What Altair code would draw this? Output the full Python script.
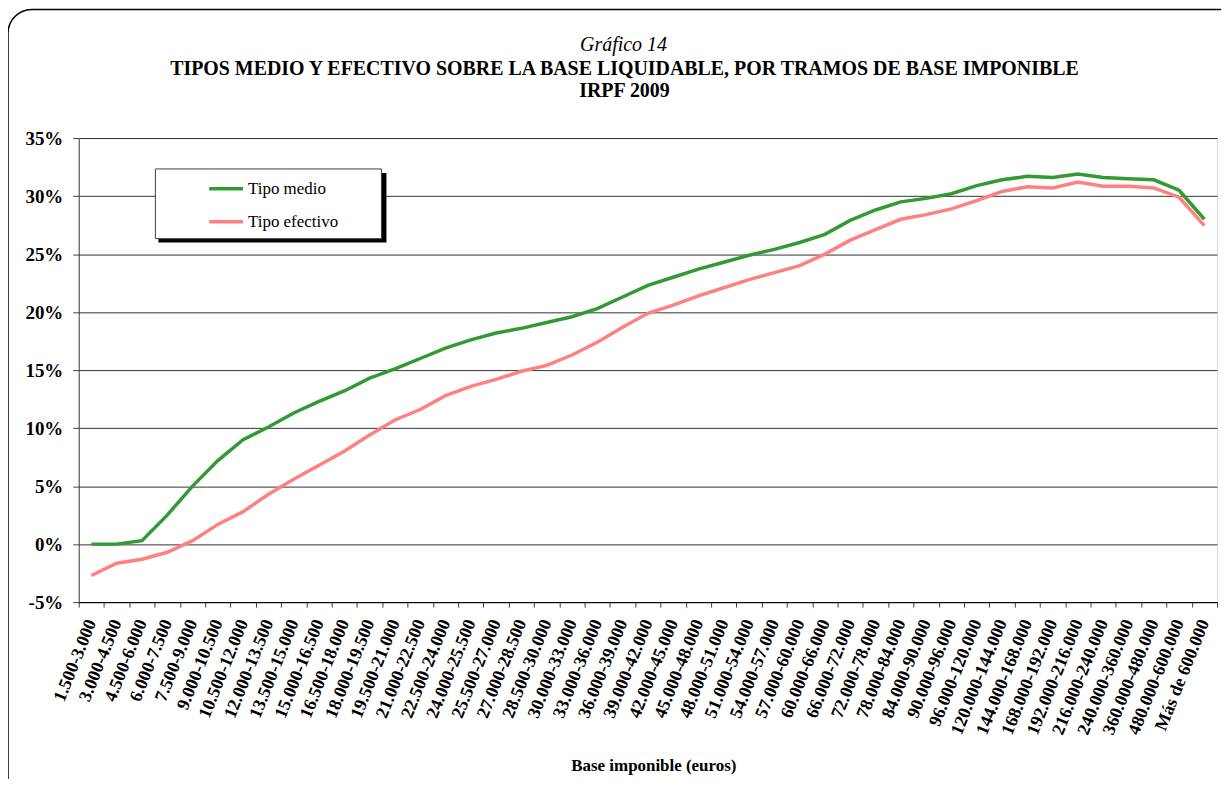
import altair as alt
import pandas as pd

tramos = [
    "1.500-3.000", "3.000-4.500", "4.500-6.000", "6.000-7.500", "7.500-9.000",
    "9.000-10.500", "10.500-12.000", "12.000-13.500", "13.500-15.000", "15.000-16.500",
    "16.500-18.000", "18.000-19.500", "19.500-21.000", "21.000-22.500", "22.500-24.000",
    "24.000-25.500", "25.500-27.000", "27.000-28.500", "28.500-30.000", "30.000-33.000",
    "33.000-36.000", "36.000-39.000", "39.000-42.000", "42.000-45.000", "45.000-48.000",
    "48.000-51.000", "51.000-54.000", "54.000-57.000", "57.000-60.000", "60.000-66.000",
    "66.000-72.000", "72.000-78.000", "78.000-84.000", "84.000-90.000", "90.000-96.000",
    "96.000-120.000", "120.000-144.000", "144.000-168.000", "168.000-192.000", "192.000-216.000",
    "216.000-240.000", "240.000-360.000", "360.000-480.000", "480.000-600.000", "Más de 600.000",
]

tipo_medio = [
    0.0, 0.0, 0.3, 2.5, 5.0, 7.2, 9.0, 10.1, 11.3, 12.3,
    13.2, 14.3, 15.1, 16.0, 16.9, 17.6, 18.2, 18.6, 19.1, 19.6,
    20.3, 21.3, 22.3, 23.0, 23.7, 24.3, 24.9, 25.4, 26.0, 26.7,
    27.9, 28.8, 29.5, 29.8, 30.2, 30.9, 31.4, 31.7, 31.6, 31.9,
    31.6, 31.5, 31.4, 30.5, 28.0,
]

tipo_efectivo = [
    -2.7, -1.65, -1.3, -0.7, 0.3, 1.7, 2.8, 4.3, 5.6, 6.8,
    8.0, 9.4, 10.7, 11.6, 12.8, 13.6, 14.2, 14.9, 15.4, 16.3,
    17.4, 18.7, 19.9, 20.6, 21.4, 22.1, 22.8, 23.4, 24.0, 25.0,
    26.2, 27.1, 28.0, 28.4, 28.9, 29.6, 30.4, 30.8, 30.7, 31.2,
    30.85, 30.85, 30.7, 29.9, 27.45,
]

series = ["Tipo medio", "Tipo efectivo"]
colores = ["#339933", "#FF8080"]
y_ticks = [-5, 0, 5, 10, 15, 20, 25, 30, 35]

titulo = "Gráfico 14"
subtitulos = [
    "TIPOS MEDIO Y EFECTIVO SOBRE LA BASE LIQUIDABLE, POR TRAMOS DE BASE IMPONIBLE",
    "IRPF 2009",
]

rows = []
for t, m, e in zip(tramos, tipo_medio, tipo_efectivo):
    rows.append({"tramo": t, "serie": series[0], "tipo": m})
    rows.append({"tramo": t, "serie": series[1], "tipo": e})
df = pd.DataFrame(rows)

FONT = "Liberation Serif"
W, H = 1143, 466

one = pd.DataFrame({"k": [0]})

frame = alt.Chart(one).mark_rect(
    filled=False, stroke="black", strokeWidth=1.5, cornerRadius=24
).encode(x=alt.value(-71), x2=alt.value(1170), y=alt.value(-129), y2=alt.value(700))

t1 = alt.Chart(one).mark_text(
    text=titulo, font=FONT, fontSize=20, fontStyle="italic", color="black",
    align="center", baseline="alphabetic",
).encode(x=alt.value(547), y=alt.value(-87))
t2 = alt.Chart(one).mark_text(
    text=subtitulos[0], font=FONT, fontSize=20, fontWeight="bold", color="black",
    align="center", baseline="alphabetic",
).encode(x=alt.value(548), y=alt.value(-63))
t3 = alt.Chart(one).mark_text(
    text=subtitulos[1], font=FONT, fontSize=20, fontWeight="bold", color="black",
    align="center", baseline="alphabetic",
).encode(x=alt.value(548), y=alt.value(-41))

shadow = alt.Chart(one).mark_rect(fill="black").encode(
    x=alt.value(80), x2=alt.value(309), y=alt.value(35), y2=alt.value(105)
)
box = alt.Chart(one).mark_rect(fill="white", stroke="#404040", strokeWidth=1).encode(
    x=alt.value(77), x2=alt.value(304), y=alt.value(31), y2=alt.value(101)
)

lines = alt.Chart(df).mark_line(strokeWidth=3.5).encode(
    x=alt.X(
        "tramo:N",
        sort=tramos,
        bandPosition=0.5,
        scale=alt.Scale(type="band", paddingInner=0, paddingOuter=0),
        title="Base imponible (euros)",
        axis=alt.Axis(
            tickBand="extent",
            labelAngle=292,
            labelAlign="right",
            labelBaseline="middle",
            labelFont=FONT,
            labelFontSize=18,
            labelFontWeight="bold",
            labelColor="black",
            labelPadding=13,
            labelOverlap=False,
            labelLimit=300,
            tickSize=5,
            tickColor="#404040",
            domainColor="black",
            grid=False,
            titleFont=FONT,
            titleFontSize=17,
            titleFontWeight="bold",
            titleColor="black",
            titleX=577,
            titleY=169,
            titleBaseline="alphabetic",
            titleAlign="center",
        ),
    ),
    y=alt.Y(
        "tipo:Q",
        scale=alt.Scale(domain=[-5, 35], nice=False, zero=False),
        axis=alt.Axis(
            values=y_ticks,
            labelExpr="datum.value + '%'",
            labelFont=FONT,
            labelFontSize=19,
            labelFontWeight="bold",
            labelColor="black",
            labelPadding=10,
            tickSize=6,
            tickColor="#404040",
            domainColor="#404040",
            gridColor="#333333",
            gridWidth=1,
            title=None,
        ),
    ),
    color=alt.Color(
        "serie:N",
        scale=alt.Scale(domain=series, range=colores),
        legend=alt.Legend(
            title=None,
            orient="none",
            legendX=129,
            legendY=32,
            direction="vertical",
            symbolType="stroke",
            symbolStrokeWidth=3.5,
            symbolSize=1156,
            labelFont=FONT,
            labelFontSize=17,
            labelColor="black",
            labelOffset=3,
            rowPadding=6,
            padding=0,
        ),
    ),
)

chart = alt.layer(frame, t1, t2, t3, shadow, box, lines).properties(
    width=W,
    height=H,
    padding={"left": 71, "top": 129, "right": 4, "bottom": 176},
    autosize=alt.AutoSizeParams(type="none"),
).configure_view(
    fill="#FFFFC0", stroke="#808080", strokeWidth=1
).configure(background="white")

chart.save("out.html", embed_options={"renderer": "svg", "actions": False})
